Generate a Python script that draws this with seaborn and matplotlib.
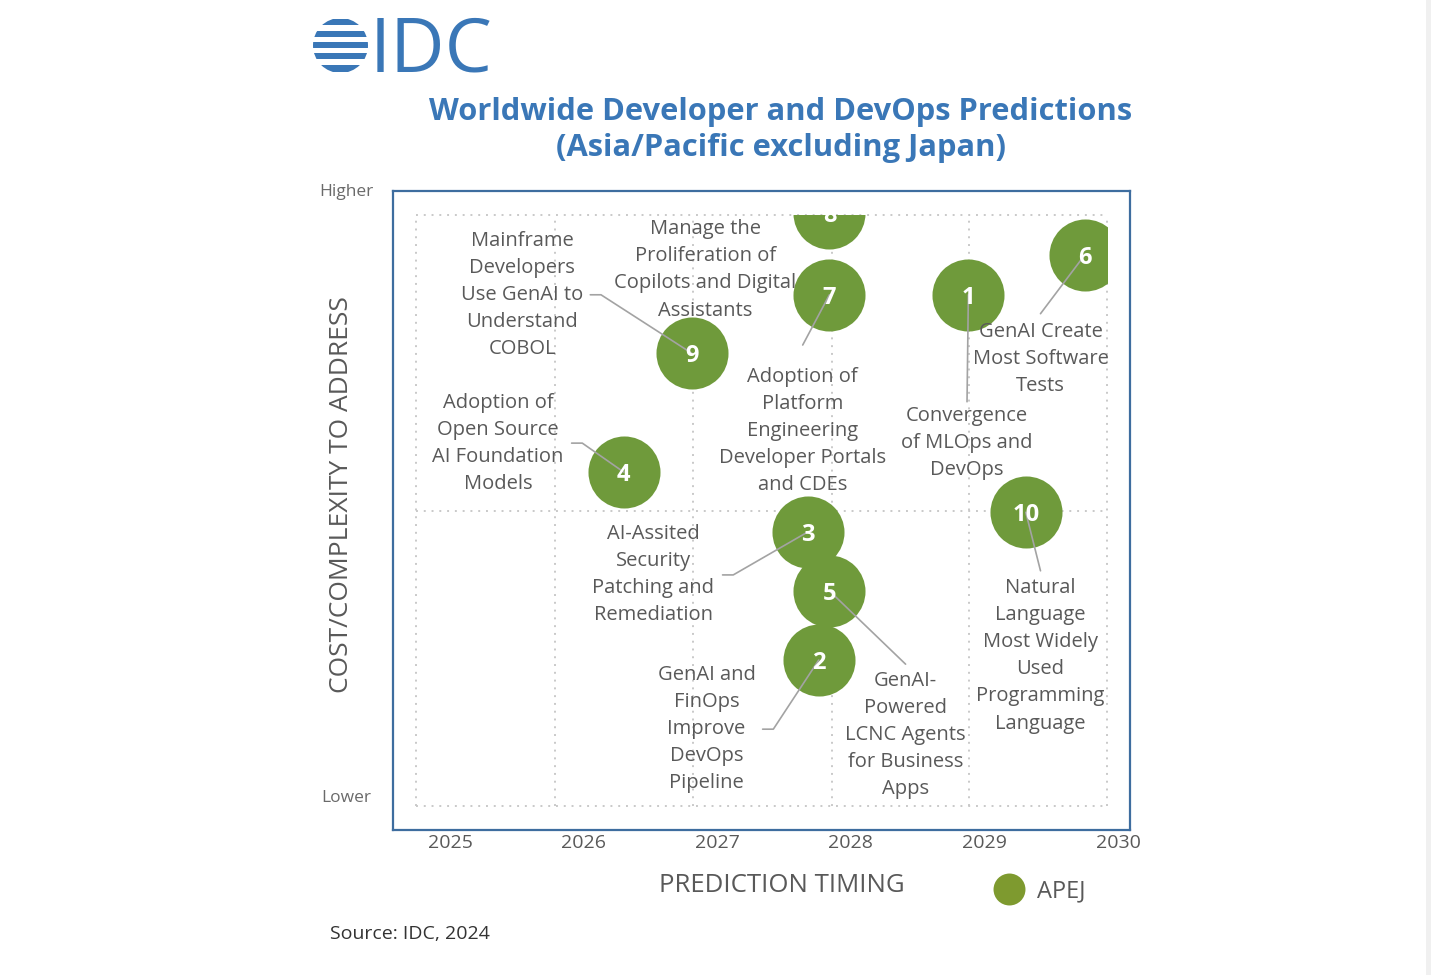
import numpy as np
import pandas as pd
import seaborn as sns
import matplotlib.pyplot as plt
from matplotlib.patches import Rectangle, Circle
from matplotlib.lines import Line2D

# ==[ Data ]==============================================================
pred_ids = [1, 2, 3, 4, 5, 6, 7, 8, 9, 10]
pred_timing = [2028.88, 2027.76, 2027.68, 2026.30, 2027.84,
               2029.75, 2027.84, 2027.84, 2026.81, 2029.31]
pred_cost = [8.65, 2.47, 4.64, 5.65, 3.64, 9.32, 8.65, 10.03, 7.66, 4.97]
pred_labels = [
    "Convergence\nof MLOps and\nDevOps",
    "GenAI and\nFinOps\nImprove\nDevOps\nPipeline",
    "AI-Assited\nSecurity\nPatching and\nRemediation",
    "Adoption of\nOpen Source\nAI Foundation\nModels",
    "GenAI-\nPowered\nLCNC Agents\nfor Business\nApps",
    "GenAI Create\nMost Software\nTests",
    "Adoption of\nPlatform\nEngineering\nDeveloper Portals\nand CDEs",
    "Manage the\nProliferation of\nCopilots and Digital\nAssistants",
    "Mainframe\nDevelopers\nUse GenAI to\nUnderstand\nCOBOL",
    "Natural\nLanguage\nMost Widely\nUsed\nProgramming\nLanguage",
]
region = ["APEJ"] * len(pred_ids)
year_ticks = [2025, 2026, 2027, 2028, 2029, 2030]

df = pd.DataFrame({"id": pred_ids, "timing": pred_timing,
                   "cost": pred_cost, "label": pred_labels, "region": region})

# --< label layout (data coords): label centre, leader start, elbow >-----
label_xy = [(2028.87, 6.14), (2026.92, 1.30), (2026.52, 3.91), (2025.36, 6.13),
            (2028.41, 1.20), (2029.42, 7.56), (2027.64, 6.35), (2026.91, 9.07),
            (2025.54, 8.65), (2029.42, 2.54)]
leader_start = [(2028.87, 6.84), (2027.34, 1.30), (2027.04, 3.91), (2025.91, 6.14),
                (2028.41, 2.40), (2029.42, 8.33), (2027.64, 7.80), None,
                (2026.05, 8.65), (2029.42, 3.98)]
elbow = [0, 0.08, 0.08, 0.08, 0, 0, 0, 0, 0.08, 0]

# grid lines of the quadrant box
grid_x = [2024.746, 2025.786, 2026.819, 2027.859, 2028.885, 2029.918]
grid_y = [0, 5, 10]

GREEN = "#6f9a3b"
LEG_GREEN = "#7e9a2f"
BLUE = "#3e6d9f"
TITLE_BLUE = "#3a77b7"
TXT = "#595959"

sns.set_theme(style="white")
plt.rcParams['font.family'] = ['Open Sans', 'DejaVu Sans']

fig = plt.figure(figsize=(14.31, 9.75), dpi=100)
fig.patch.set_facecolor("white")

# overlay axes in pixel coords for the surrounding decoration
ax0 = fig.add_axes([0, 0, 1, 1])
ax0.set_xlim(0, 1431)
ax0.set_ylim(975, 0)
ax0.axis("off")

ax = fig.add_axes([393 / 1431, 1 - 830 / 975, 737 / 1431, 639 / 975])
ax.set_xlim(2024.573, 2030.09)
ax.set_ylim(-0.406, 10.406)
ax.set_facecolor("none")

# dotted quadrant grid
for gx in grid_x:
    ax.plot([gx, gx], [grid_y[0], grid_y[-1]], color="#c9c9c9", lw=1.4,
            ls=(0, (1, 3)), zorder=1)
for gy in grid_y:
    ax.plot([grid_x[0], grid_x[-1]], [gy, gy], color="#c9c9c9", lw=1.4,
            ls=(0, (1, 3)), zorder=1)

clip_rect = Rectangle((grid_x[0], grid_y[0]), grid_x[-1] - grid_x[0],
                      grid_y[-1] - grid_y[0], transform=ax.transData)

sns.scatterplot(data=df, x="timing", y="cost", color=GREEN, s=2690,
                linewidth=0, legend=False, ax=ax, zorder=3)
ax.collections[-1].set_clip_path(clip_rect)

# leader lines and labels
for i, row in df.iterrows():
    st = leader_start[i]
    if st is not None:
        xs = [st[0], st[0] + elbow[i], row.timing]
        ys = [st[1], st[1], row.cost]
        ax.plot(xs, ys, color="#a3a3a3", lw=1.2, zorder=4)
    lx, ly = label_xy[i]
    ax.text(lx, ly, row.label, ha="center", va="center", multialignment="center",
            fontsize=14.5, color=TXT, linespacing=1.47, zorder=6)
    t = ax.text(row.timing, row.cost, str(row.id), ha="center", va="center_baseline",
                color="white", fontsize=17, fontweight="bold", zorder=5)
    t.set_clip_path(clip_rect)

# frame and ticks
for sp in ax.spines.values():
    sp.set_color(BLUE)
    sp.set_linewidth(1.6)
ax.set_xticks(year_ticks)
ax.set_xticklabels([str(y) for y in year_ticks], fontsize=14, color=TXT)
ax.set_yticks([])
ax.tick_params(axis="x", length=0, pad=3)
ax.set_xlabel("")
ax.set_ylabel("")

# ==[ Decoration ]========================================================
ax0.text(781, 130, "Worldwide Developer and DevOps Predictions\n(Asia/Pacific excluding Japan)",
         ha="center", va="center", fontsize=22.2, fontweight="bold", color=TITLE_BLUE,
         linespacing=1.3)
ax0.text(782, 886, "PREDICTION TIMING", ha="center", va="center", fontsize=18.5, color=TXT)
ax0.text(342, 495, "COST/COMPLEXITY TO ADDRESS", ha="center", va="center",
         rotation=90, fontsize=19, color=TXT)
ax0.text(346, 192, "Higher", ha="center", va="center", fontsize=12.5, color="#6a6a6a")
ax0.text(346, 798, "Lower", ha="center", va="center", fontsize=12.5, color="#6a6a6a")
ax0.text(330, 934, "Source: IDC, 2024", ha="left", va="center", fontsize=14, color="#333333")

# IDC logo
globe = Circle((340.5, 45.5), 27.5, transform=ax0.transData)
for y0, y1 in [(19, 25), (31, 37), (42, 48), (53, 59), (65, 72)]:
    bar = Rectangle((310, y0), 62, y1 - y0, color=TITLE_BLUE, lw=0)
    ax0.add_patch(bar)
    bar.set_clip_path(globe)
ax0.text(370, 72, "IDC", ha="left", va="baseline", fontsize=54, color=TITLE_BLUE,
         fontweight="normal")

# right edge band
ax0.add_patch(Rectangle((1426, 0), 5, 975, color="#f0f0f0", lw=0))

# legend
handle = Line2D([], [], marker="o", ls="", markersize=23, color=LEG_GREEN,
                markeredgewidth=0, label="APEJ")
ax.legend(handles=[handle], loc="center left", frameon=False, fontsize=17,
          labelcolor=TXT, handlelength=1.4, handletextpad=0.5, borderpad=0,
          borderaxespad=0, bbox_to_anchor=(992 / 1431, 1 - 891 / 975),
          bbox_transform=fig.transFigure)

fig.savefig("out.png", dpi=100, facecolor="white")
